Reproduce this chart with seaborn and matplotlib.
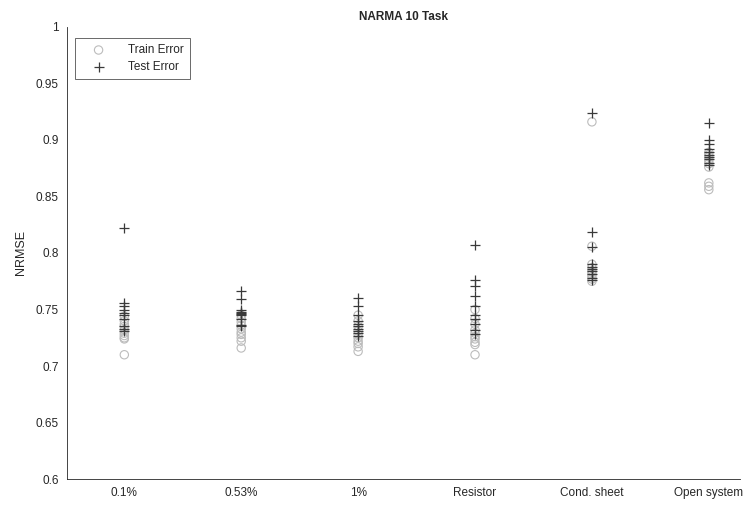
import pandas as pd
import numpy as np
import matplotlib
matplotlib.use("Agg")
import matplotlib.pyplot as plt
import seaborn as sns

# categories on the x axis
configs = ['0.1%', '0.53%', '1%', 'Resistor', 'Cond. sheet', 'Open system']

# NRMSE per run (10 runs each)
train_01 = [0.710, 0.724, 0.725, 0.727, 0.729, 0.732, 0.735, 0.737, 0.740, 0.744]
test_01 = [0.822, 0.756, 0.753, 0.750, 0.747, 0.745, 0.742, 0.735, 0.733, 0.731]
train_053 = [0.716, 0.722, 0.725, 0.728, 0.730, 0.733, 0.736, 0.739, 0.742, 0.745]
test_053 = [0.766, 0.759, 0.750, 0.748, 0.747, 0.746, 0.742, 0.735, 0.736, 0.745]
train_1 = [0.713, 0.717, 0.720, 0.722, 0.725, 0.728, 0.731, 0.735, 0.740, 0.745]
test_1 = [0.760, 0.753, 0.745, 0.740, 0.737, 0.735, 0.733, 0.731, 0.729, 0.727]
train_res = [0.710, 0.719, 0.721, 0.724, 0.726, 0.729, 0.732, 0.737, 0.742, 0.750]
test_res = [0.807, 0.776, 0.771, 0.762, 0.753, 0.745, 0.742, 0.737, 0.732, 0.728]
train_sheet = [0.916, 0.806, 0.790, 0.787, 0.784, 0.781, 0.779, 0.777, 0.775, 0.783]
test_sheet = [0.924, 0.819, 0.805, 0.790, 0.788, 0.786, 0.784, 0.781, 0.778, 0.776]
train_open = [0.856, 0.859, 0.862, 0.876, 0.879, 0.881, 0.883, 0.885, 0.887, 0.889]
test_open = [0.915, 0.900, 0.896, 0.892, 0.889, 0.887, 0.885, 0.883, 0.880, 0.878]

train_all = [train_01, train_053, train_1, train_res, train_sheet, train_open]
test_all = [test_01, test_053, test_1, test_res, test_sheet, test_open]

rows = []
for c, tr, te in zip(configs, train_all, test_all):
    for v in tr:
        rows.append((c, 'Train Error', v))
    for v in te:
        rows.append((c, 'Test Error', v))
df = pd.DataFrame(rows, columns=['config', 'kind', 'nrmse'])
df['pos'] = df['config'].map({c: i for i, c in enumerate(configs)})

sns.set_style('white')
plt.rcParams['font.family'] = ['Liberation Sans', 'DejaVu Sans']

fig = plt.figure(figsize=(7.49, 5.07), dpi=100)
ax = fig.add_axes([0.0895, 0.055, 0.899, 0.892])

tr = df[df['kind'] == 'Train Error']
te = df[df['kind'] == 'Test Error']
sns.scatterplot(x=tr['pos'], y=tr['nrmse'], marker='o', s=36,
                facecolors='none', edgecolors='#bcbcbc', linewidth=0.8,
                label='Train Error', ax=ax)
sns.scatterplot(x=te['pos'], y=te['nrmse'], marker='+', s=60,
                color='#3a3a3a', linewidth=0.9, label='Test Error', ax=ax)

ax.set_xlim(-0.49, 5.27)
ax.set_ylim(0.6, 1.0)
ax.set_xticks(range(len(configs)))
ax.set_xticklabels(configs)
ax.set_yticks(np.arange(0.6, 1.001, 0.05))
ax.set_yticklabels(['0.6', '0.65', '0.7', '0.75', '0.8', '0.85', '0.9', '0.95', '1'])
ax.tick_params(direction='in', length=4, width=0.6, labelsize=8.5, colors='#262626',
               pad=6)
ax.set_xlabel('')
ax.set_ylabel('NRMSE', fontsize=9, color='#262626', labelpad=6)
ax.set_title('NARMA 10 Task', fontsize=8.5, fontweight='bold', pad=5)
for s in ['top', 'right']:
    ax.spines[s].set_visible(False)
for s in ['left', 'bottom']:
    ax.spines[s].set_color('#262626')
    ax.spines[s].set_linewidth(0.6)

leg = ax.legend(loc='upper left', bbox_to_anchor=(0.003, 0.988), fontsize=8.5,
                frameon=True, fancybox=False, edgecolor='#262626',
                borderpad=0.5, handlelength=3.0, handletextpad=1.0,
                labelspacing=0.45)
leg.get_frame().set_linewidth(0.6)

plt.savefig('out.png', dpi=100)
plt.close()
